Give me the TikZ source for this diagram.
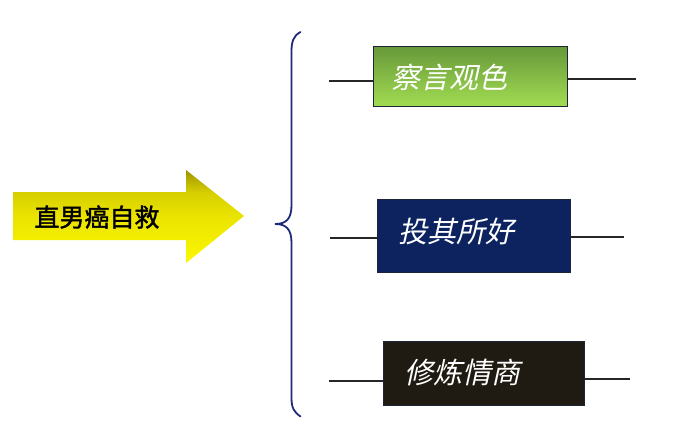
\documentclass[tikz,border=0pt]{standalone}
\usepackage{fontspec}
\newfontfamily\cjk{Noto Sans CJK SC}
\newfontfamily\cjkfb[FakeBold=1.6]{Noto Sans CJK SC}
\newfontfamily\cjkit[FakeSlant=0.22]{Noto Sans CJK SC}
\usetikzlibrary{calc}
\definecolor{bracecol}{HTML}{1E2A78}
\definecolor{greentop}{HTML}{67993A}
\definecolor{greenbot}{HTML}{A2DC52}
\definecolor{navybox}{HTML}{0C2360}
\definecolor{darkbox}{HTML}{201B12}
\definecolor{boxedge}{HTML}{1C2438}
\definecolor{yeltop}{HTML}{9C9400}
\definecolor{yelmid}{HTML}{D6CE00}
\definecolor{yelmid2}{HTML}{EAE300}
\definecolor{yelbot}{HTML}{FCF700}
\pgfdeclareverticalshading{arrowshade}{100bp}{
  color(0bp)=(yelbot); color(25bp)=(yelbot); color(50.8bp)=(yelmid2); color(63.2bp)=(yelmid); color(75bp)=(yeltop); color(100bp)=(yeltop)}
\tikzset{
  boxstyle/.style={draw=boxedge, line width=1.3pt, inner sep=0pt},
  boxtext/.style={anchor=west, text=white, font=\cjkit\fontsize{29}{29}\selectfont, inner sep=0pt},
  stub/.style={draw=black!85, line width=1.3pt}
}
\begin{document}
\begin{tikzpicture}[x=1pt,y=-1pt]
\useasboundingbox (0,0) rectangle (700,432);
\fill[white] (0,0) rectangle (700,432);
% big arrow
\shade[shading=arrowshade]
  (13,192) -- (186,192) -- (186,170) -- (244,216) -- (186,263) -- (186,240) -- (13,240) -- cycle;
\node[font=\cjkfb\fontsize{25}{25}\selectfont, text=black, inner sep=0pt] (main) at (97,217) {直男癌自救};
% brace
\draw[bracecol, line width=1.8pt, line cap=round]
  (300.5,32) .. controls (293,36) and (291.5,42) .. (291.5,52)
  -- (291.5,205) .. controls (291.5,218) and (287,224) .. (275,224)
  .. controls (287,224) and (291.5,230) .. (291.5,243)
  -- (291.5,398) .. controls (291.5,408) and (294,412) .. (300.5,416.5);
% boxes
\node[boxstyle, minimum width=194pt, minimum height=60pt, anchor=north west,
  top color=greentop, bottom color=greenbot] (b1) at (373,46) {};
\node[boxstyle, minimum width=193pt, minimum height=73pt, anchor=north west, fill=navybox] (b2) at (377,199) {};
\node[boxstyle, minimum width=201pt, minimum height=64pt, anchor=north west, fill=darkbox] (b3) at (383,341) {};
\node[boxtext] (t1) at ($(b1.west)+(18,1)$) {察言观色};
\node[boxtext] (t2) at ($(b2.west)+(21,-5)$) {投其所好};
\node[boxtext] (t3) at ($(b3.west)+(21,-1)$) {修炼情商};
% stubs
\coordinate (l1) at (329,81);
\coordinate (r1) at (636,79);
\coordinate (l2) at (330,238);
\coordinate (r2) at (624,237);
\coordinate (l3) at (329,381);
\coordinate (r3) at (630,379);
\draw[stub] (l1) -- (l1 -| b1.west);
\draw[stub] (r1 -| b1.east) -- (r1);
\draw[stub] (l2) -- (l2 -| b2.west);
\draw[stub] (r2 -| b2.east) -- (r2);
\draw[stub] (l3) -- (l3 -| b3.west);
\draw[stub] (r3 -| b3.east) -- (r3);
\end{tikzpicture}
\end{document}
